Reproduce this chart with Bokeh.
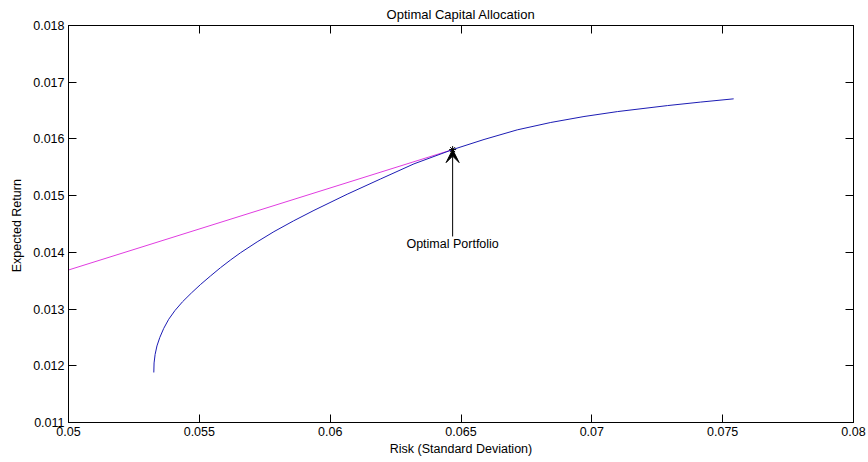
from bokeh.plotting import figure
from bokeh.models import (LinearAxis, FixedTicker, Arrow, VeeHead, Label, ColumnDataSource, Range1d)
from bokeh.embed import file_html
from bokeh.resources import INLINE

# ---------------- data ----------------
# efficient frontier (risk, return)
frontier_risk = [0.05326, 0.05327, 0.05331, 0.05338, 0.05349, 0.05364, 0.05383, 0.05407,
                 0.05436, 0.05470, 0.05505, 0.05543, 0.05581, 0.05620, 0.05658, 0.05721,
                 0.05785, 0.05860, 0.05938, 0.06065, 0.06193, 0.06320, 0.06468, 0.06588,
                 0.06715, 0.06843, 0.06970, 0.07098, 0.07289, 0.07416, 0.07542]
frontier_ret = [0.011882, 0.012050, 0.012200, 0.012350, 0.012500, 0.012660, 0.012820, 0.012975,
                0.013130, 0.013285, 0.013435, 0.013585, 0.013730, 0.013868, 0.013995, 0.014185,
                0.014365, 0.014555, 0.014740, 0.015025, 0.015295, 0.015560, 0.015812, 0.015990,
                0.016160, 0.016290, 0.016395, 0.016482, 0.016588, 0.016650, 0.016707]

# capital allocation line: risk-free asset -> optimal portfolio
cal_risk = [0.0, 0.06468]
cal_ret = [0.006459, 0.015812]

opt_risk = [0.06468]
opt_ret = [0.015812]

x_ticks = [0.05, 0.055, 0.06, 0.065, 0.07, 0.075, 0.08]
x_tick_labels = ["0.05", "0.055", "0.06", "0.065", "0.07", "0.075", "0.08"]
y_ticks = [0.011, 0.012, 0.013, 0.014, 0.015, 0.016, 0.017, 0.018]
y_tick_labels = ["0.011", "0.012", "0.013", "0.014", "0.015", "0.016", "0.017", "0.018"]

FONT = "Liberation Sans"
FS = "12.5px"

p = figure(width=868, height=462, output_backend="svg", toolbar_location=None,
           x_range=Range1d(0.05, 0.08), y_range=Range1d(0.011, 0.018),
           x_axis_location=None, y_axis_location=None,
           min_border_left=68, min_border_right=15, min_border_top=25, min_border_bottom=40,
           background_fill_color="white", border_fill_color="white")
p.xgrid.visible = False
p.ygrid.visible = False
p.outline_line_color = "black"

p.title.text = "Optimal Capital Allocation"
p.title.align = "center"
p.title.text_font = FONT
p.title.text_font_size = "13px"
p.title.text_font_style = "normal"
p.title.text_color = "black"
p.title.standoff = 7

def make_axis(ticks, labels, show_labels, axis_label=None):
    ax = LinearAxis(ticker=FixedTicker(ticks=ticks))
    ax.major_tick_in = 8
    ax.major_tick_out = 0
    ax.minor_tick_in = 0
    ax.minor_tick_out = 0
    ax.axis_line_color = "black"
    ax.major_tick_line_color = "black"
    if show_labels:
        ax.major_label_overrides = dict(zip(ticks, labels))
        ax.major_label_text_font = FONT
        ax.major_label_text_font_size = FS
        ax.major_label_text_color = "black"
        ax.major_label_standoff = 4
    else:
        ax.major_label_text_font_size = "0px"
        ax.major_label_text_color = None
        ax.major_label_standoff = 0
    if axis_label:
        ax.axis_label = axis_label
        ax.axis_label_text_font = FONT
        ax.axis_label_text_font_size = FS
        ax.axis_label_text_font_style = "normal"
        ax.axis_label_text_color = "black"
    return ax

xb = make_axis(x_ticks, x_tick_labels, True, "Risk (Standard Deviation)")
xb.axis_label_standoff = 3
yl = make_axis(y_ticks, y_tick_labels, True, "Expected  Return")
yl.axis_label_standoff = 6
xt = make_axis(x_ticks, x_tick_labels, False)
yr = make_axis(y_ticks, y_tick_labels, False)
p.add_layout(xb, "below")
p.add_layout(yl, "left")
p.add_layout(xt, "above")
p.add_layout(yr, "right")

frontier = ColumnDataSource(dict(x=frontier_risk, y=frontier_ret))
cal = ColumnDataSource(dict(x=cal_risk, y=cal_ret))
opt = ColumnDataSource(dict(x=opt_risk, y=opt_ret))

p.line("x", "y", source=cal, line_color="#e03ce0", line_width=1)
p.line("x", "y", source=frontier, line_color="#1c1cb4", line_width=1)
p.scatter("x", "y", source=opt, marker="asterisk", size=7, line_color="black", line_width=1)

label_y = 0.014144
arrow_tail_y = 0.01428
p.add_layout(Arrow(end=VeeHead(size=13, fill_color="black", line_color="black"),
                   x_start=opt_risk[0], y_start=arrow_tail_y,
                   x_end=opt_risk[0], y_end=opt_ret[0],
                   line_color="black", line_width=1))
p.add_layout(Label(x=opt_risk[0], y=label_y, text="Optimal Portfolio",
                   text_align="center", text_baseline="middle",
                   text_font=FONT, text_font_size=FS, text_color="black"))

open("out.html", "w").write(file_html(p, INLINE))
